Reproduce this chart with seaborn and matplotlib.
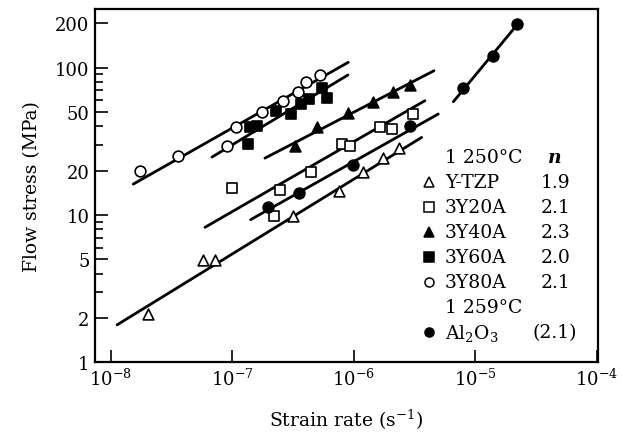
import pandas as pd
import matplotlib
matplotlib.use('Agg')
import matplotlib.pyplot as plt
import seaborn as sns
from matplotlib.ticker import FixedLocator, NullFormatter, NullLocator

# strain rate (s^-1) / flow stress (MPa)
ytzp_rate = [2.04e-8, 5.78e-8, 7.21e-8, 3.18e-7, 7.61e-7, 1.20e-6, 1.73e-6, 2.36e-6]
ytzp_stress = [2.13, 4.98, 4.98, 9.8, 14.5, 19.5, 24.2, 28.3]

y20_rate = [9.91e-8, 2.21e-7, 2.47e-7, 4.49e-7, 7.96e-7, 9.32e-7, 1.65e-6, 2.08e-6, 3.06e-6]
y20_stress = [15.2, 9.8, 14.8, 19.7, 30.3, 29.4, 39.3, 38.3, 48.4]

y40_rate = [3.26e-7, 4.96e-7, 8.97e-7, 1.45e-6, 2.12e-6, 2.91e-6]
y40_stress = [29.4, 39.5, 49.1, 58.8, 67.9, 76.1]

y60_rate = [1.36e-7, 1.40e-7, 1.61e-7, 2.28e-7, 3.03e-7, 3.66e-7, 4.28e-7, 5.45e-7, 5.99e-7]
y60_stress = [30.3, 39.3, 40.3, 50.9, 48.4, 56.6, 61.2, 72.3, 62.1]

y80_rate = [1.74e-8, 3.56e-8, 9.01e-8, 1.07e-7, 1.77e-7, 2.63e-7, 3.50e-7, 4.05e-7, 5.28e-7]
y80_stress = [19.8, 25.2, 29.5, 39.3, 50.1, 59.6, 68.5, 79.4, 89.4]

al2o3_rate = [1.96e-7, 3.56e-7, 9.81e-7, 2.91e-6, 7.98e-6, 1.41e-5, 2.21e-5]
al2o3_stress = [11.3, 14.1, 21.8, 40.3, 72.3, 119.1, 197.2]

# fitted lines (end points)
fit_lines = {
    'Y-TZP': ([1.13e-8, 3.63e-6], [1.80, 33.6]),
    '3Y20A': ([5.97e-8, 3.86e-6], [8.25, 59.6]),
    '3Y40A': ([1.86e-7, 4.58e-6], [24.3, 95.1]),
    '3Y60A': ([6.82e-8, 8.97e-7], [24.7, 89.0]),
    '3Y80A': ([1.535e-8, 9.03e-7], [16.2, 108.5]),
    'Al2O3 low': ([1.42e-7, 4.97e-6], [9.3, 48.4]),
    'Al2O3 high': ([6.61e-6, 2.25e-5], [58.6, 198.0]),
}

materials = ['Y-TZP', '3Y20A', '3Y40A', '3Y60A', '3Y80A', 'Al$_2$O$_3$']
n_values = ['1.9', '2.1', '2.3', '2.0', '2.1', '(2.1)']
markers = ['^', 's', '^', 's', 'o', 'o']
filled = [False, False, True, True, False, True]
rates = [ytzp_rate, y20_rate, y40_rate, y60_rate, y80_rate, al2o3_rate]
stresses = [ytzp_stress, y20_stress, y40_stress, y60_stress, y80_stress, al2o3_stress]

sns.set_style('ticks')
plt.rcParams['font.family'] = 'DejaVu Serif'
plt.rcParams['mathtext.fontset'] = 'dejavuserif'
for key in ['axes.edgecolor', 'text.color', 'axes.labelcolor', 'xtick.color', 'ytick.color']:
    plt.rcParams[key] = 'black'

fig = plt.figure(figsize=(6.22, 4.39), dpi=100)
ax = fig.add_axes([0.1527, 0.172, 0.8087, 0.805])
ax.set_xscale('log')
ax.set_yscale('log')

for name, (lx, ly) in fit_lines.items():
    sns.lineplot(x=lx, y=ly, color='black', linewidth=2.0, estimator=None,
                 sort=False, legend=False, ax=ax, zorder=2)

for mat, r, s, m, f in zip(materials, rates, stresses, markers, filled):
    df = pd.DataFrame({'rate': r, 'stress': s})
    sns.scatterplot(data=df, x='rate', y='stress', marker=m, s=60,
                    facecolor='black' if f else 'white', edgecolor='black',
                    linewidth=1.2, ax=ax, zorder=3, legend=False)

ax.set_xlim(10 ** -8.129, 10 ** -3.989)
ax.set_ylim(1, 249)

ax.set_xticks([1e-8, 1e-7, 1e-6, 1e-5, 1e-4])
ax.xaxis.set_minor_locator(NullLocator())
y_major = [1, 2, 5, 10, 20, 50, 100, 200]
ax.set_yticks(y_major)
ax.set_yticklabels([str(v) for v in y_major])
ax.yaxis.set_minor_locator(FixedLocator([3, 4, 6, 7, 8, 9, 30, 40, 60, 70, 80, 90]))
ax.yaxis.set_minor_formatter(NullFormatter())

ax.tick_params(which='major', direction='in', length=9, width=1.2, labelsize=13, pad=4)
ax.tick_params(which='minor', direction='in', length=5.5, width=1.2)
for sp in ax.spines.values():
    sp.set_linewidth(1.6)

ax.set_xlabel('Strain rate (s$^{-1}$)', fontsize=13.5, labelpad=13)
ax.set_ylabel('Flow stress (MPa)', fontsize=13.5, labelpad=10)

# legend block drawn as text
row_y = [0.581, 0.511, 0.440, 0.369, 0.298, 0.228, 0.157, 0.086]
x_mark, x_text, x_n = 0.664, 0.696, 0.915
fs = 13.5
ax.text(x_text, row_y[0], '1 250\u00b0C', transform=ax.transAxes, fontsize=fs, va='center')
ax.text(x_n, row_y[0], 'n', transform=ax.transAxes, fontsize=fs, va='center',
        ha='center', fontweight='bold', fontstyle='italic')
ax.text(x_text, row_y[6], '1 259\u00b0C', transform=ax.transAxes, fontsize=fs, va='center')
key_rows = [1, 2, 3, 4, 5, 7]
for i, (mat, nv, m, f) in enumerate(zip(materials, n_values, markers, filled)):
    yy = row_y[key_rows[i]]
    ax.plot([x_mark], [yy], marker=m, markersize=6.5, color='black',
            markerfacecolor='black' if f else 'white', markeredgewidth=1.1,
            transform=ax.transAxes, linestyle='none')
    ax.text(x_text, yy, mat, transform=ax.transAxes, fontsize=fs, va='center')
    ax.text(x_n, yy, nv, transform=ax.transAxes, fontsize=fs, va='center', ha='center')

fig.savefig('out.png', dpi=100)
